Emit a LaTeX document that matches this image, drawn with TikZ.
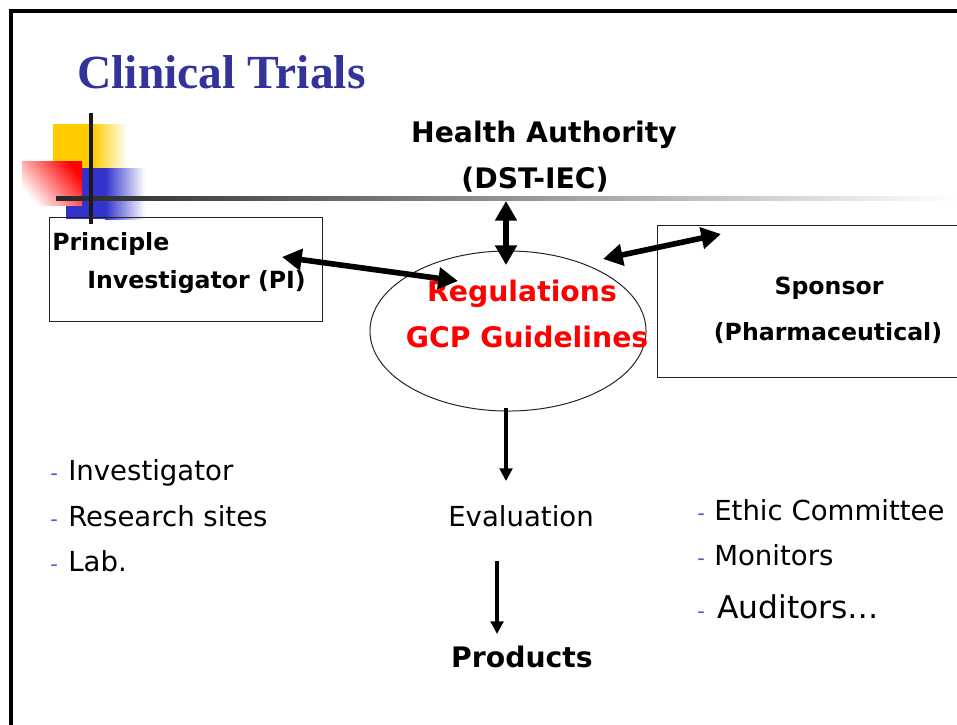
\documentclass[tikz,border=0pt]{standalone}
\usepackage{fontspec}
\setmainfont{DejaVu Sans}
\newfontfamily\titlefont{Liberation Serif}
\usetikzlibrary{arrows.meta,shapes.geometric}
\definecolor{titleblue}{HTML}{333399}
\definecolor{regred}{HTML}{FF0000}
\definecolor{deckyellow}{HTML}{FFCC00}
\definecolor{deckblue}{HTML}{3333CC}
\definecolor{dashblue}{HTML}{5555DD}
\definecolor{boxline}{HTML}{222222}
\newcommand{\titlesz}{\fontsize{33.8}{40}\selectfont}
\newcommand{\headsz}{\fontsize{20.1}{24}\selectfont}
\newcommand{\partysz}{\fontsize{16.8}{20}\selectfont}
\newcommand{\listsz}{\fontsize{19.6}{23}\selectfont}
\newcommand{\auditsz}{\fontsize{22.3}{26}\selectfont}
\newcommand{\dashsz}{\fontsize{15}{17}\selectfont}
\tikzset{
 every node/.append style={inner sep=0pt,anchor=base},
 title/.style={font=\titlefont\titlesz\bfseries,text=titleblue,anchor=base west},
 head/.style={font=\headsz\bfseries},
 regs/.style={font=\headsz\bfseries,text=regred},
 party/.style={font=\partysz\bfseries},
 partybox/.style={draw=boxline,line width=.6pt,rectangle},
 oval/.style={draw=boxline,line width=.7pt,ellipse},
 item/.style={font=\listsz,anchor=base west},
 dashmark/.style={font=\dashsz,text=dashblue,anchor=base west},
 twoway/.style={{Triangle[length=14pt,width=15pt]}-{Triangle[length=14pt,width=15pt]},line width=4pt},
 oneway/.style={-{Triangle[length=9pt,width=9pt]},line width=2.8pt},
}

\begin{document}
\begin{tikzpicture}[x=0.025cm,y=-0.025cm]

\useasboundingbox (0,0) rectangle (957,724);
\draw[line width=2.4pt] (11,726) -- (11,11) -- (962,11);

\fill[deckyellow] (53,124) rectangle (93,168);
\shade[left color=deckyellow,right color=white] (93,124) rectangle (127,168);
\fill[deckblue] (66,168) rectangle (105,219);
\shade[left color=deckblue,right color=white] (105,168) rectangle (145,219);
\shade[top color=red,bottom color=white,shading angle=-50] (22,161) rectangle (82,205);
\shade[left color=black!85,right color=white] (56,196) rectangle (957,200);
\draw[line width=3pt,black!90] (91,113) -- (91,224);

\node[title] (ttl) at (77,88) {Clinical Trials};

\node[head] (ha) at (544,142) {Health Authority};
\node[head] (dst) at (535,188) {(DST-IEC)};

\node[partybox,minimum width=6.825cm,minimum height=2.6cm] (pibox) at (185.5,269) {};
\node[party,anchor=base west] (pi1) at (52,250) {Principle};
\node[party,anchor=base west] (pi2) at (87,288) {Investigator (PI)};

\node[partybox,minimum width=7.7cm,minimum height=3.8cm] (spbox) at (811,301) {};
\node[party] (sp1) at (829,294) {Sponsor};
\node[party] (sp2) at (828,340) {(Pharmaceutical)};

\node[oval,minimum width=6.9cm,minimum height=4cm] (gcp) at (508,331) {};
\node[regs] (reg1) at (522,301) {Regulations};
\node[regs] (reg2) at (527,347) {GCP Guidelines};

\node[font=\listsz] (eval) at (521,526) {Evaluation};
\node[head] (prod) at (522,667) {Products};

\node[dashmark] (d1) at (50,480) {-};
\node[item] (l1) at (68,480) {Investigator};
\node[dashmark] (d2) at (50,526) {-};
\node[item] (l2) at (68,526) {Research sites};
\node[dashmark] (d3) at (50,571) {-};
\node[item] (l3) at (68,571) {Lab.};

\node[dashmark] (d4) at (697,520) {-};
\node[item] (r1) at (714,520) {Ethic Committee};
\node[dashmark] (d5) at (697,565) {-};
\node[item] (r2) at (714,565) {Monitors};
\node[dashmark] (d6) at (697,618) {-};
\node[item,font=\auditsz] (r3) at (717,618) {Auditors…};

\coordinate (haEnd) at (506,201);
\coordinate (gcpTop) at (506,265);
\coordinate (piEnd) at (282,257);
\coordinate (gcpLeft) at (458,281);
\coordinate (gcpRight) at (603,259);
\coordinate (spEnd) at (721,234);
\coordinate (gcpLow) at (506,408);
\coordinate (evalTop) at (506,481);
\coordinate (evalLow) at (497,561);
\coordinate (prodTop) at (497,634);

\draw[twoway] (haEnd) -- (gcpTop);
\draw[twoway] (piEnd) -- (gcpLeft);
\draw[twoway] (gcpRight) -- (spEnd);
\draw[oneway] (gcpLow) -- (evalTop);
\draw[oneway] (evalLow) -- (prodTop);

\end{tikzpicture}
\end{document}
